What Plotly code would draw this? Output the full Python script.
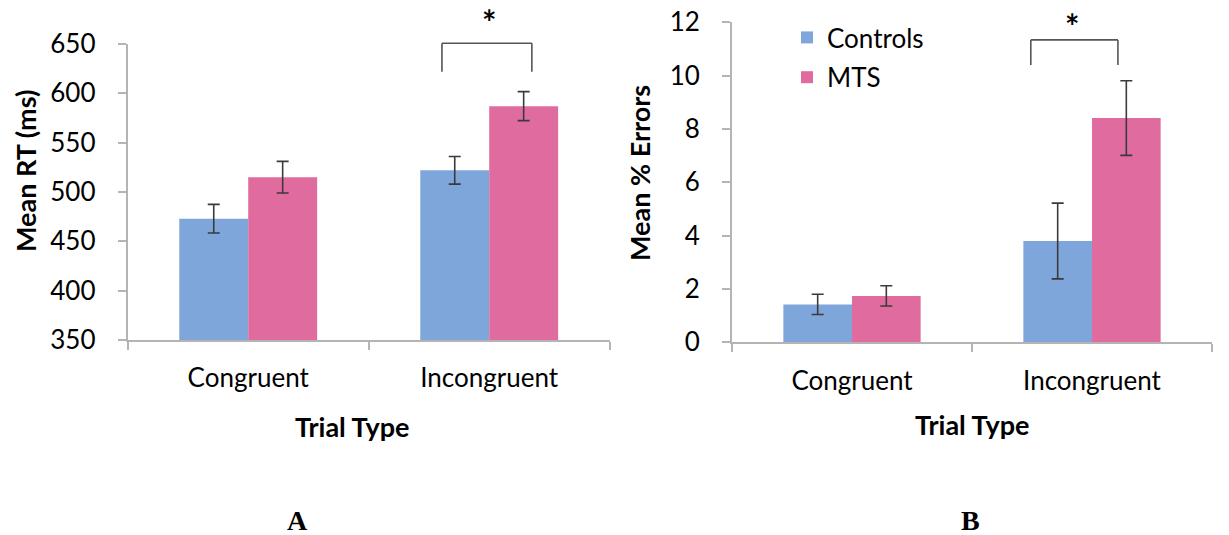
import plotly.graph_objects as go

categories = ["Congruent", "Incongruent"]
series_names = ["Controls", "MTS"]

rt_controls = [473, 522]
rt_controls_err = [14.5, 14]
rt_mts = [515, 587]
rt_mts_err = [16, 14.7]

err_controls = [1.42, 3.80]
err_controls_err = [0.38, 1.42]
err_mts = [1.74, 8.41]
err_mts_err = [0.38, 1.40]

rt_ticks = [350, 400, 450, 500, 550, 600, 650]
err_ticks = [0, 2, 4, 6, 8, 10, 12]

BLUE = "#7FA6DA"
PINK = "#E06C9F"
AXC = "#B4B4B4"
ERRC = "#3A3A3A"
FONT = "Lato"

fig = go.Figure()

def add_bars(vals, errs, name, color, xa, ya, show):
    fig.add_trace(go.Bar(
        x=categories, y=vals, name=name, marker=dict(color=color, line=dict(width=0)),
        error_y=dict(type="data", array=errs, color=ERRC, thickness=1.6, width=6),
        xaxis=xa, yaxis=ya, showlegend=show, legendgroup=name,
    ))

add_bars(rt_controls, rt_controls_err, series_names[0], BLUE, "x", "y", False)
add_bars(rt_mts, rt_mts_err, series_names[1], PINK, "x", "y", False)
add_bars(err_controls, err_controls_err, series_names[0], BLUE, "x2", "y2", True)
add_bars(err_mts, err_mts_err, series_names[1], PINK, "x2", "y2", True)

# the page body shifts the figure by 8px; positions below are in window pixels
OFF = 8
W, H = 1229, 535
def px(x):
    return (x - OFF) / W
def py(y):
    return 1 - (y - OFF) / H

xcommon = dict(type="category", range=[-0.5, 1.5], showline=True, linecolor=AXC, linewidth=2,
               ticks="outside", tickson="boundaries", ticklen=8, tickcolor=AXC, tickwidth=2,
               showgrid=False, zeroline=False, ticklabelstandoff=14, automargin=False,
               ticklabeloverflow="allow",
               tickfont=dict(family=FONT, size=26, color="#000"))
ycommon = dict(showline=True, linecolor=AXC, linewidth=2, ticks="outside", ticklen=8,
               tickcolor=AXC, tickwidth=2, showgrid=False, zeroline=False, ticklabelstandoff=17,
               automargin=False, ticklabeloverflow="allow",
               tickfont=dict(family=FONT, size=26, color="#000"))

fig.update_layout(
    template="none",
    width=W, height=H, margin=dict(l=0, r=0, t=0, b=0, pad=0, autoexpand=False),
    paper_bgcolor="white", plot_bgcolor="white",
    barmode="group", bargap=0.428, bargroupgap=0,
    xaxis=dict(domain=[px(127.7), px(609.7)], anchor="y", **xcommon),
    yaxis=dict(domain=[py(340), py(44)], anchor="x", range=[350, 650], tickvals=rt_ticks, **ycommon),
    xaxis2=dict(domain=[px(732), px(1212)], anchor="y2", **xcommon),
    yaxis2=dict(domain=[py(342.3), py(22.3)], anchor="x2", range=[0, 12], tickvals=err_ticks, **ycommon),
    legend=dict(x=px(787), y=py(14), xanchor="left", yanchor="top", bgcolor="rgba(0,0,0,0)",
                font=dict(family=FONT, size=26, color="#000"), tracegroupgap=3, itemwidth=30),
    showlegend=True,
)

# significance brackets
def bracket(xref, yref, x0, x1, ytop, ybot):
    for (a, b, c, d) in [(x0, ybot, x0, ytop), (x0, ytop, x1, ytop), (x1, ytop, x1, ybot)]:
        fig.add_shape(type="line", xref=xref, yref=yref, x0=a, y0=b, x1=c, y1=d,
                      line=dict(color="#555555", width=1.6))

bracket("x", "y domain", 0.804, 1.177, (650.7 - 350) / 300, (622 - 350) / 300)
bracket("x2", "y2 domain", 0.745, 1.108, 11.34 / 12, 10.4 / 12)

def note(x, y, text, font, xref="paper", angle=0):
    fig.add_annotation(x=x, y=y, xref=xref, yref="paper", text=text, textangle=angle,
                       showarrow=False, font=font, xanchor="center", yanchor="middle")

star_font = dict(family=FONT, size=34, color="#000")
note(1.0, py(22), "<b>*</b>", star_font, xref="x")
note(0.918, py(26), "<b>*</b>", star_font, xref="x2")

# axis titles
title_font = dict(family=FONT, size=27, color="#000")
note(px(25), py(171), "<b>Mean RT (ms)</b>", title_font, angle=-90)
note(px(352), py(426), "<b>Trial Type</b>", title_font)
note(px(640), py(173), "<b>Mean % Errors</b>", title_font, angle=-90)
note(px(972), py(424), "<b>Trial Type</b>", title_font)

# panel labels
panel_font = dict(family="Liberation Serif", size=28, color="#000")
note(px(297), py(520), "<b>A</b>", panel_font)
note(px(970), py(520), "<b>B</b>", panel_font)

fig.write_html("out.html")
